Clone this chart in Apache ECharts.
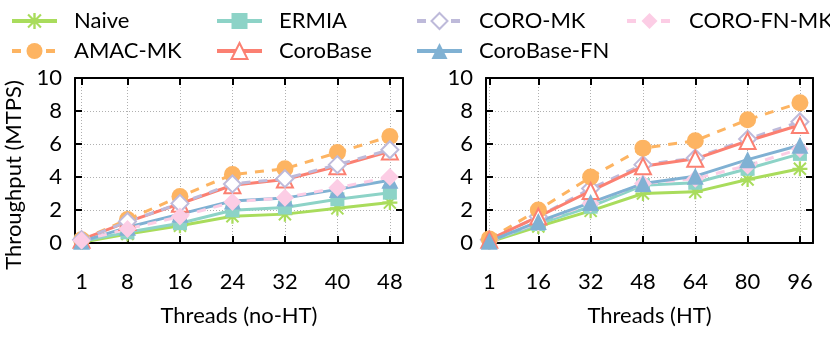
<!DOCTYPE html>
<html><head><meta charset="utf-8">
<script src="https://cdn.jsdelivr.net/npm/echarts@6/dist/echarts.min.js"></script>
<style>html,body{margin:0;padding:0;background:#fff}#c{width:830px;height:340px}</style>
</head><body><div id="c"></div>
<script>
// ---- data ----
const threadsNoHT = [1, 8, 16, 24, 32, 40, 48];
const threadsHT = [1, 16, 32, 48, 64, 80, 96];
const yTickValues = [0, 2, 4, 6, 8, 10];
const xNameNoHT = 'Threads (no-HT)';
const xNameHT = 'Threads (HT)';
const yName = 'Throughput (MTPS)';
const seriesNames = ['Naive', 'ERMIA', 'CORO-MK', 'CORO-FN-MK', 'AMAC-MK', 'CoroBase', 'CoroBase-FN'];

const naiveNoHT      = [0.05, 0.55, 1.05, 1.62, 1.75, 2.10, 2.45];
const ermiaNoHT      = [0.10, 0.65, 1.20, 1.98, 2.15, 2.65, 3.05];
const coroMkNoHT     = [0.20, 1.30, 2.40, 3.58, 3.90, 4.75, 5.65];
const coroFnMkNoHT   = [0.15, 0.85, 1.60, 2.48, 2.75, 3.35, 4.00];
const amacMkNoHT     = [0.20, 1.42, 2.82, 4.15, 4.50, 5.48, 6.45];
const corobaseNoHT   = [0.20, 1.28, 2.38, 3.50, 3.85, 4.65, 5.55];
const corobaseFnNoHT = [0.10, 0.95, 1.75, 2.55, 2.72, 3.25, 3.80];

const naiveHT      = [0.05, 1.00, 1.95, 3.00, 3.10, 3.85, 4.50];
const ermiaHT      = [0.10, 1.15, 2.20, 3.50, 3.65, 4.50, 5.40];
const coroMkHT     = [0.20, 1.60, 3.30, 4.75, 5.15, 6.30, 7.35];
const coroFnMkHT   = [0.10, 1.25, 2.40, 3.60, 3.90, 4.70, 5.70];
const amacMkHT     = [0.25, 2.00, 4.00, 5.75, 6.20, 7.47, 8.50];
const corobaseHT   = [0.20, 1.60, 3.15, 4.65, 5.10, 6.18, 7.15];
const corobaseFnHT = [0.10, 1.30, 2.45, 3.60, 4.05, 5.05, 5.92];

// ---- styles ----
const FONT = 'Lato';
const FS = 22;
const ASTER = 'path://M0 8.5L20 8.5L20 11.5L0 11.5Z M8.5 0L11.5 0L11.5 20L8.5 20Z M2.9 1L19 17.1L17.1 19L1 2.9Z M17.1 1L19 2.9L2.9 19L1 17.1Z';
const styles = {
  'Naive':       {color: '#a9dc5c', symbol: ASTER, size: 15, dash: false},
  'ERMIA':       {color: '#8dd3c7', symbol: 'rect', size: 14, dash: false},
  'CORO-MK':     {color: '#bebada', symbol: 'emptyDiamond', size: 17, dash: true},
  'CORO-FN-MK':  {color: '#fccde5', symbol: 'diamond', size: 18, dash: true},
  'AMAC-MK':     {color: '#fdb462', symbol: 'circle', size: 17, dash: true},
  'CoroBase':    {color: '#fb8072', symbol: 'emptyTriangle', size: 16, dash: false},
  'CoroBase-FN': {color: '#80b1d3', symbol: 'triangle', size: 17, dash: false}
};

function mkSeries(name, xs, ys, axisIdx) {
  const s = styles[name];
  return {
    name, type: 'line', xAxisIndex: axisIdx, yAxisIndex: axisIdx,
    data: xs.map((x, i) => [x, ys[i]]),
    symbol: s.symbol, symbolSize: s.size, showSymbol: true,
    itemStyle: {color: s.color, borderWidth: 2.5},
    lineStyle: {color: s.color, width: 3, type: s.dash ? [9, 8] : 'solid'},
    animation: false
  };
}

function xAxesFor(gridIndex, ticks, max, name) {
  const common = {
    type: 'value', gridIndex, min: 0, max,
    axisLine: {show: true, onZero: false, lineStyle: {color: '#000', width: 2}},
    axisTick: {show: true, inside: true, length: 7, customValues: ticks, lineStyle: {color: '#000', width: 2}}
  };
  return [
    Object.assign({}, common, {
      position: 'bottom',
      axisLabel: {customValues: ticks, margin: 28, fontSize: FS, color: '#000', fontFamily: FONT},
      splitLine: {show: true, lineStyle: {color: '#b0b0b0', type: [1, 2], width: 1}},
      name, nameLocation: 'middle', nameGap: 62,
      nameTextStyle: {fontSize: FS, color: '#000', fontFamily: FONT}
    }),
    Object.assign({}, common, {
      position: 'top', axisLabel: {show: false}, splitLine: {show: false}
    })
  ];
}

function yAxesFor(gridIndex) {
  const common = {
    type: 'value', gridIndex, min: 0, max: 10, interval: 2,
    axisLine: {show: true, onZero: false, lineStyle: {color: '#000', width: 2}},
    axisTick: {show: true, inside: true, length: 7, lineStyle: {color: '#000', width: 2}}
  };
  return [
    Object.assign({}, common, {
      position: 'left',
      axisLabel: {margin: 13, fontSize: FS, color: '#000', fontFamily: FONT},
      splitLine: {show: true, lineStyle: {color: '#b0b0b0', type: [1, 2], width: 1}}
    }),
    Object.assign({}, common, {
      position: 'right', axisLabel: {show: false}, splitLine: {show: false}
    })
  ];
}

const xAxis = [].concat(xAxesFor(0, threadsNoHT, 50, xNameNoHT), xAxesFor(1, threadsHT, 100, xNameHT));
const yAxis = [].concat(yAxesFor(0), yAxesFor(1));

const series = [
  mkSeries('Naive', threadsNoHT, naiveNoHT, 0),
  mkSeries('ERMIA', threadsNoHT, ermiaNoHT, 0),
  mkSeries('AMAC-MK', threadsNoHT, amacMkNoHT, 0),
  mkSeries('CoroBase', threadsNoHT, corobaseNoHT, 0),
  mkSeries('CoroBase-FN', threadsNoHT, corobaseFnNoHT, 0),
  mkSeries('CORO-MK', threadsNoHT, coroMkNoHT, 0),
  mkSeries('CORO-FN-MK', threadsNoHT, coroFnMkNoHT, 0),

  mkSeries('Naive', threadsHT, naiveHT, 2),
  mkSeries('ERMIA', threadsHT, ermiaHT, 2),
  mkSeries('CORO-MK', threadsHT, coroMkHT, 2),
  mkSeries('CORO-FN-MK', threadsHT, coroFnMkHT, 2),
  mkSeries('AMAC-MK', threadsHT, amacMkHT, 2),
  mkSeries('CoroBase', threadsHT, corobaseHT, 2),
  mkSeries('CoroBase-FN', threadsHT, corobaseFnHT, 2)
];

const legendCommon = {
  orient: 'vertical', top: 5, itemWidth: 45, itemHeight: 20, itemGap: 8,
  selectedMode: false,
  lineStyle: {width: 4},
  textStyle: {fontSize: FS, color: '#000', fontFamily: FONT, padding: [0, 0, 0, 12]}
};
const legend = [
  Object.assign({}, legendCommon, {left: 5, data: ['Naive', 'AMAC-MK']}),
  Object.assign({}, legendCommon, {left: 210, data: ['ERMIA', 'CoroBase']}),
  Object.assign({}, legendCommon, {left: 410, data: ['CORO-MK', 'CoroBase-FN']}),
  Object.assign({}, legendCommon, {left: 620, data: ['CORO-FN-MK']})
];

const chart = echarts.init(document.getElementById('c'), null, {renderer: 'canvas'});
chart.setOption({
  animation: false,
  backgroundColor: '#fff',
  grid: [
    {left: 75, top: 78, width: 328, height: 165},
    {left: 486, top: 78, width: 327, height: 165}
  ],
  legend,
  xAxis, yAxis, series,
  graphic: [{
    type: 'text', x: 14, y: 175, rotation: Math.PI / 2,
    style: {text: yName, fontSize: FS, fontFamily: FONT, fill: '#000', align: 'center', verticalAlign: 'middle'}
  }]
});
</script>
</body></html>
